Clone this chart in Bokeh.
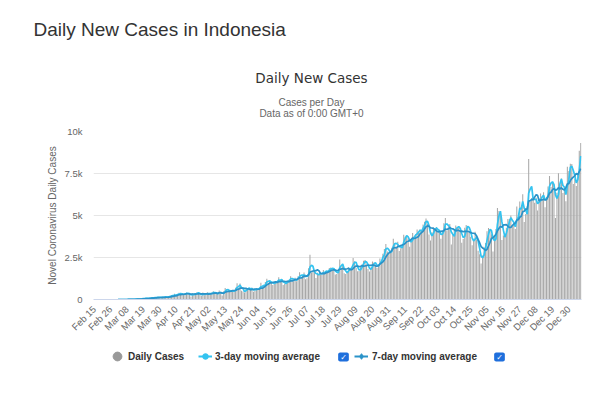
import numpy as np
import pandas as pd
from math import pi
from bokeh.plotting import figure
from bokeh.layouts import column
from bokeh.models import (Range1d, FixedTicker, Label, Legend, LegendItem,
                          ColumnDataSource)
from bokeh.embed import file_html
from bokeh.resources import INLINE

# ---------------- data ----------------
start_date = "2020-02-15"
cases_feb = [0] * 15                      # Feb 15 - Feb 29
cases_mar = [0, 2, 0, 0, 0, 2, 0, 2, 13, 8, 7, 7, 35, 27, 21, 17, 38, 55, 82, 60, 81,
             64, 65, 107, 104, 103, 153, 109, 130, 129, 114]
cases_apr = [149, 113, 196, 106, 181, 218, 247, 218, 337, 219, 330, 399, 316, 282, 297,
             380, 407, 325, 327, 185, 375, 283, 357, 436, 396, 275, 214, 415, 260, 347]
cases_may = [433, 292, 349, 395, 484, 367, 338, 336, 533, 387, 233, 484, 689, 568, 490,
             529, 489, 496, 486, 693, 973, 634, 949, 526, 479, 415, 686, 687, 678, 557, 700]
cases_jun = [467, 609, 684, 585, 703, 993, 672, 847, 1043, 1241, 979, 1111, 1014, 857, 1017,
             1106, 1031, 1331, 1041, 1226, 862, 954, 1051, 1113, 1178, 1385, 1198, 1082, 1293, 1082]
cases_jul = [1385, 1624, 1301, 1447, 1607, 1209, 1268, 1853, 2657, 1611, 1671, 1681, 1282,
             1591, 1522, 1574, 1462, 1752, 1639, 1693, 1655, 1882, 1906, 1761, 1868, 1492,
             1525, 1748, 2381, 1904, 2040]
cases_aug = [1560, 1519, 1679, 1922, 1815, 1882, 2473, 2277, 1893, 1687, 1693, 1942, 2098,
             2307, 2345, 2081, 1821, 1673, 1902, 2266, 2197, 2090, 1877, 2037, 2447, 2306,
             2719, 3003, 3308, 2858, 2743]
cases_sep = [2775, 3075, 3622, 3269, 3128, 3444, 2880, 3046, 3307, 3861, 3737, 3806, 3636,
             3141, 3507, 3963, 3635, 3891, 4168, 3989, 4176, 4071, 4465, 4634, 4823, 4494,
             3874, 3509, 4002, 4284]
cases_oct = [4174, 4317, 4007, 3992, 3622, 4056, 4538, 4850, 4094, 4294, 4497, 3267, 3906,
             4127, 4411, 4301, 4301, 4105, 3373, 3602, 4267, 4432, 4369, 4070, 3732, 3222,
             3520, 4029, 3565, 2897, 2696]
cases_nov = [2143, 2618, 3143, 3356, 4065, 4262, 4173, 3880, 2853, 3779, 4192, 5444, 5272,
             5046, 3535, 3807, 3798, 4265, 4798, 4792, 4998, 4360, 4442, 4192, 5534, 4917,
             5828, 5418, 6267, 4617]
cases_dec = [5092, 5533, 8369, 5803, 6027, 6089, 5754, 6058, 5292, 6033, 6310, 5938, 6388,
             5489, 6120, 6725, 7354, 6689, 6982, 6848, 4854, 6347, 7514, 6808, 7199, 6346,
             6528, 5854, 7903, 7642, 8074]
cases_jan = [8072, 6877, 7203, 6753, 7445, 8854, 9321]

tick_labels = ["Feb 15", "Feb 26", "Mar 08", "Mar 19", "Mar 30", "Apr 10", "Apr 21",
               "May 02", "May 13", "May 24", "Jun 04", "Jun 15", "Jun 26", "Jul 07",
               "Jul 18", "Jul 29", "Aug 09", "Aug 20", "Aug 31", "Sep 11", "Sep 22",
               "Oct 03", "Oct 14", "Oct 25", "Nov 05", "Nov 16", "Nov 27", "Dec 08",
               "Dec 19", "Dec 30"]
y_ticks = [0, 2500, 5000, 7500, 10000]
y_tick_labels = ["0", "2.5k", "5k", "7.5k", "10k"]

daily = (cases_feb + cases_mar + cases_apr + cases_may + cases_jun + cases_jul +
         cases_aug + cases_sep + cases_oct + cases_nov + cases_dec + cases_jan)
n = len(daily)
dates = pd.date_range(start_date, periods=n, freq="D")
s = pd.Series(daily, dtype=float)
ma3 = s.rolling(3).mean()
ma7 = s.rolling(7).mean()
first = next(i for i, v in enumerate(daily) if v > 0)
ma3[:first] = np.nan
ma7[:first] = np.nan

src = ColumnDataSource(dict(x=list(range(n)), cases=daily, ma3=ma3.values, ma7=ma7.values,
                            date=[d.strftime("%b %d") for d in dates]))

GRAY_TXT = "#666666"
DARK_TXT = "#333333"
C3 = "#33C3F0"
C7 = "#2A93C9"
W = 591
HEAD_H, MAIN_H, LEG_H = 125, 215, 50


def blank_fig(h, y0, y1):
    f = figure(width=W, height=h, output_backend="svg", toolbar_location=None,
               x_range=Range1d(0, W), y_range=Range1d(y1, y0),
               x_axis_type=None, y_axis_type=None, min_border=0,
               outline_line_color=None, frame_align=False)
    f.xgrid.visible = False
    f.ygrid.visible = False
    f.background_fill_color = "white"
    f.border_fill_color = "white"
    return f


# ---------------- header (window y 0..125) ----------------
head = blank_fig(HEAD_H, 0, HEAD_H)
head.add_layout(Label(x=33, y=29, text="Daily New Cases in Indonesia",
                      text_font="Liberation Sans", text_font_size="19px",
                      text_color=DARK_TXT, text_baseline="alphabetic"))
head.add_layout(Label(x=311, y=77, text="Daily New Cases", text_font="DejaVu Sans",
                      text_font_size="13.5px", text_color=DARK_TXT,
                      text_align="center", text_baseline="middle"))
head.add_layout(Label(x=311, y=102, text="Cases per Day", text_font="Liberation Sans",
                      text_font_size="10px", text_color=GRAY_TXT,
                      text_align="center", text_baseline="middle"))
head.add_layout(Label(x=311, y=113, text="Data as of 0:00 GMT+0",
                      text_font="Liberation Sans", text_font_size="10px",
                      text_color=GRAY_TXT, text_align="center", text_baseline="middle"))

# ---------------- main chart (window y 125..340) ----------------
p = figure(width=W, height=MAIN_H, output_backend="svg", toolbar_location=None,
           x_range=Range1d(-0.5, n - 0.5), y_range=Range1d(0, 10000),
           min_border_left=93, min_border_right=10, min_border_top=131 - HEAD_H,
           min_border_bottom=HEAD_H + MAIN_H - 299, outline_line_color=None,
           frame_align=False)
p.background_fill_color = "white"
p.border_fill_color = "white"

p.vbar(x="x", top="cases", width=0.7, source=src, fill_color="#a8a8a8", line_color=None)
p.line("x", "ma3", source=src, line_color=C3, line_width=1.7)
p.line("x", "ma7", source=src, line_color=C7, line_width=1.7)

p.xaxis.ticker = FixedTicker(ticks=list(range(0, 11 * len(tick_labels), 11)))
p.xaxis.major_label_overrides = {i * 11: lab for i, lab in enumerate(tick_labels)}
p.xaxis.major_label_orientation = pi / 4
p.xaxis.major_label_text_font = "Liberation Sans"
p.xaxis.major_label_text_font_size = "9.5px"
p.xaxis.major_label_text_color = GRAY_TXT
p.xaxis.major_tick_line_color = None
p.xaxis.minor_tick_line_color = None
p.xaxis.major_tick_out = 0
p.xaxis.major_tick_in = 0
p.xaxis.minor_tick_out = 0
p.xaxis.axis_line_color = "#ccd6eb"
p.xaxis.major_label_standoff = 8

p.yaxis.ticker = FixedTicker(ticks=y_ticks)
p.yaxis.major_label_overrides = {t: l for t, l in zip(y_ticks, y_tick_labels)}
p.yaxis.major_label_text_font = "Liberation Sans"
p.yaxis.major_label_text_font_size = "9.5px"
p.yaxis.major_label_text_color = GRAY_TXT
p.yaxis.major_tick_line_color = None
p.yaxis.minor_tick_line_color = None
p.yaxis.major_tick_out = 0
p.yaxis.major_tick_in = 0
p.yaxis.minor_tick_out = 0
p.yaxis.axis_line_color = None
p.yaxis.major_label_standoff = 11
p.yaxis.axis_label = "Novel Coronavirus Daily Cases"
p.yaxis.axis_label_text_font = "Liberation Sans"
p.yaxis.axis_label_text_font_size = "10px"
p.yaxis.axis_label_text_font_style = "normal"
p.yaxis.axis_label_text_color = GRAY_TXT
p.yaxis.axis_label_standoff = 4

p.xgrid.grid_line_color = None
p.ygrid.grid_line_color = "#e6e6e6"

# ---------------- legend strip (window y 340..390) ----------------
LEG_TOP = HEAD_H + MAIN_H
LEG_BOTTOM = LEG_TOP + LEG_H
leg = blank_fig(LEG_H, LEG_TOP, LEG_BOTTOM)
key_src = ColumnDataSource(dict(x=[np.nan], y=[np.nan]))
k_daily = leg.scatter("x", "y", source=key_src, marker="circle", fill_color="#999999",
                      line_color="#999999")
k3l = leg.line("x", "y", source=key_src, line_color=C3, line_width=2)
k3m = leg.scatter("x", "y", source=key_src, marker="circle", fill_color=C3, line_color=C3)
k7l = leg.line("x", "y", source=key_src, line_color=C7, line_width=2)
k7m = leg.scatter("x", "y", source=key_src, marker="diamond", fill_color=C7, line_color=C7)


def make_legend(label, renderers, left, gw, gh, standoff, center_y):
    return Legend(items=[LegendItem(label=label, renderers=renderers)],
                  location=(left, LEG_BOTTOM - (center_y + gh / 2)),
                  orientation="horizontal", glyph_width=gw, glyph_height=gh,
                  label_standoff=standoff, padding=0, margin=0, spacing=0,
                  label_height=10, border_line_alpha=0, background_fill_alpha=0,
                  label_text_font="Liberation Sans", label_text_font_style="bold",
                  label_text_font_size="10px", label_text_color=DARK_TXT)


leg.add_layout(make_legend("Daily Cases", [k_daily], 106, 22, 22, 0, 356))
leg.add_layout(make_legend("3-day moving average", [k3l, k3m], 198, 14, 14, 3, 356))
leg.add_layout(make_legend("7-day moving average", [k7l, k7m], 354, 14, 14, 4, 356))

for cx in (343, 499):
    leg.add_layout(Label(x=cx, y=356.5, text="\u2713", text_font="DejaVu Sans",
                         text_font_style="bold", text_font_size="8px", text_color="white",
                         text_align="center", text_baseline="middle",
                         background_fill_color="#1f6fdc", padding=(2, 0),
                         border_radius=2))

layout = column(head, p, leg, spacing=0)
open("out.html", "w").write(file_html(layout, INLINE))
